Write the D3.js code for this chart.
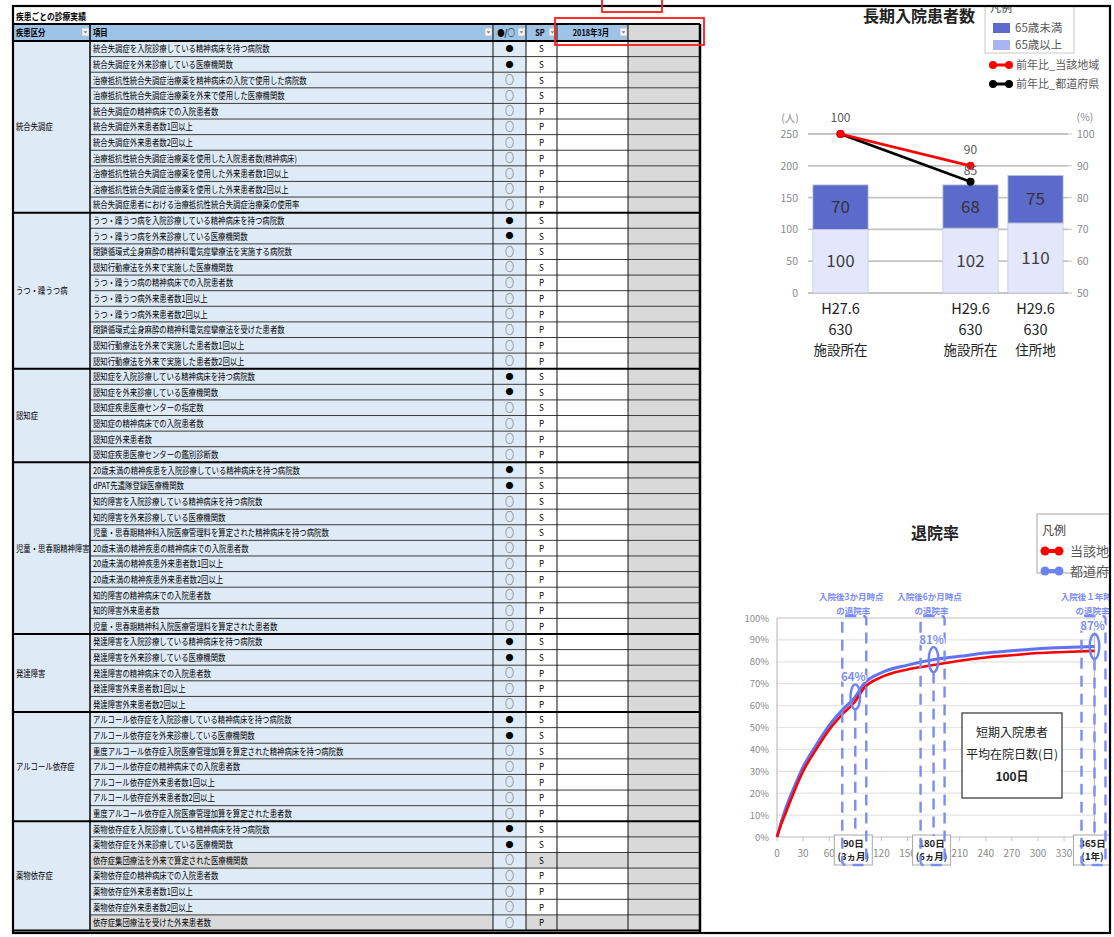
<!DOCTYPE html>
<html>
<head>
<meta charset="utf-8">
<script src="https://cdn.jsdelivr.net/npm/d3@7"></script>
<style>
  body { margin: 0; background: #fff; }
  svg { display: block; }
  text { font-family: "Noto Sans CJK JP", "Noto Sans", sans-serif; }
</style>
</head>
<body>
<svg id="sheet" width="1114" height="937"></svg>
<script>
// ---------- table data ----------
const tableTitle = '疾患ごとの診療実績';
const headerLabels = ['疾患区分', '項目', '●/○', 'SP', '2018年3月', ''];
const groupNames = ['統合失調症', 'うつ・躁うつ病', '認知症', '児童・思春期精神障害', '発達障害', 'アルコール依存症', '薬物依存症'];
const groupSizes = [11, 10, 6, 11, 5, 7, 7];
const itemNames = [
  '統合失調症を入院診療している精神病床を持つ病院数',
  '統合失調症を外来診療している医療機関数',
  '治療抵抗性統合失調症治療薬を精神病床の入院で使用した病院数',
  '治療抵抗性統合失調症治療薬を外来で使用した医療機関数',
  '統合失調症の精神病床での入院患者数',
  '統合失調症外来患者数1回以上',
  '統合失調症外来患者数2回以上',
  '治療抵抗性統合失調症治療薬を使用した入院患者数(精神病床)',
  '治療抵抗性統合失調症治療薬を使用した外来患者数1回以上',
  '治療抵抗性統合失調症治療薬を使用した外来患者数2回以上',
  '統合失調症患者における治療抵抗性統合失調症治療薬の使用率',
  'うつ・躁うつ病を入院診療している精神病床を持つ病院数',
  'うつ・躁うつ病を外来診療している医療機関数',
  '閉鎖循環式全身麻酔の精神科電気痙攣療法を実施する病院数',
  '認知行動療法を外来で実施した医療機関数',
  'うつ・躁うつ病の精神病床での入院患者数',
  'うつ・躁うつ病外来患者数1回以上',
  'うつ・躁うつ病外来患者数2回以上',
  '閉鎖循環式全身麻酔の精神科電気痙攣療法を受けた患者数',
  '認知行動療法を外来で実施した患者数1回以上',
  '認知行動療法を外来で実施した患者数2回以上',
  '認知症を入院診療している精神病床を持つ病院数',
  '認知症を外来診療している医療機関数',
  '認知症疾患医療センターの指定数',
  '認知症の精神病床での入院患者数',
  '認知症外来患者数',
  '認知症疾患医療センターの鑑別診断数',
  '20歳未満の精神疾患を入院診療している精神病床を持つ病院数',
  'dPAT先遣隊登録医療機関数',
  '知的障害を入院診療している精神病床を持つ病院数',
  '知的障害を外来診療している医療機関数',
  '児童・思春期精神科入院医療管理料を算定された精神病床を持つ病院数',
  '20歳未満の精神疾患の精神病床での入院患者数',
  '20歳未満の精神疾患外来患者数1回以上',
  '20歳未満の精神疾患外来患者数2回以上',
  '知的障害の精神病床での入院患者数',
  '知的障害外来患者数',
  '児童・思春期精神科入院医療管理料を算定された患者数',
  '発達障害を入院診療している精神病床を持つ病院数',
  '発達障害を外来診療している医療機関数',
  '発達障害の精神病床での入院患者数',
  '発達障害外来患者数1回以上',
  '発達障害外来患者数2回以上',
  'アルコール依存症を入院診療している精神病床を持つ病院数',
  'アルコール依存症を外来診療している医療機関数',
  '重度アルコール依存症入院医療管理加算を算定された精神病床を持つ病院数',
  'アルコール依存症の精神病床での入院患者数',
  'アルコール依存症外来患者数1回以上',
  'アルコール依存症外来患者数2回以上',
  '重度アルコール依存症入院医療管理加算を算定された患者数',
  '薬物依存症を入院診療している精神病床を持つ病院数',
  '薬物依存症を外来診療している医療機関数',
  '依存症集団療法を外来で算定された医療機関数',
  '薬物依存症の精神病床での入院患者数',
  '薬物依存症外来患者数1回以上',
  '薬物依存症外来患者数2回以上',
  '依存症集団療法を受けた外来患者数'
];
const itemMarks = Array.from('●●○○○○○○○○○' + '●●○○○○○○○○' + '●●○○○○' + '●●○○○○○○○○○' + '●●○○○' + '●●○○○○○' + '●●○○○○○');
const itemSP = Array.from('SSSSPPPPPPP' + 'SSSSPPPPPP' + 'SSSPPP' + 'SSSSSPPPPPP' + 'SSPPP' + 'SSSPPPP' + 'SSSPPPP');
const greyedItems = [52, 56];

// ---------- long-stay chart data ----------
const stayTitle = '長期入院患者数';
const stayCats = ['H27.6\n630\n施設所在', ' ', 'H29.6\n630\n施設所在', 'H29.6\n630\n住所地'];
const stayOver65 = [100, null, 102, 110];
const stayUnder65 = [70, null, 68, 75];
const ratioLocal = [100, null, 90, null];
const ratioPref = [100, null, 85, null];
const stayTicksLeft = [0, 50, 100, 150, 200, 250];
const stayTicksRight = [50, 60, 70, 80, 90, 100];
const stayLegendBars = ['65歳未満', '65歳以上'];
const stayLegendLines = ['前年比_当該地域', '前年比_都道府県'];

// ---------- discharge-rate chart data ----------
const dischargeTitle = '退院率';
const dischargeDays = [0, 5, 10, 20, 30, 45, 60, 75, 90, 100, 120, 150, 180, 210, 240, 270, 300, 330, 365];
const dischargeLocal = [0, 6, 11, 21, 30, 40, 49, 56, 62, 68, 73, 76.5, 78.5, 80.5, 82, 83, 84, 84.5, 85];
const dischargePref = [0, 7, 13, 23, 32, 42, 51, 58, 64, 70, 75, 78.5, 81, 82.5, 84, 85, 86, 86.5, 87];
const dischargeTicksX = [0, 30, 60, 120, 150, 210, 240, 270, 300, 330];
const dischargeTicksY = [0, 10, 20, 30, 40, 50, 60, 70, 80, 90, 100];
const markDays = [90, 180, 365];
const markRates = [64, 81, 87];
const markTop = ['入院後3か月時点', '入院後6か月時点', '入院後１年時点'];
const markBottom = [['90日', '(3ヵ月)'], ['180日', '(6ヵ月)'], ['365日', '(1年)']];
const dischargeLegend = ['当該地域', '都道府県'];
const shortStayNote = ['短期入院患者', '平均在院日数(日)', '100日'];

// ---------- drawing ----------
const svg = d3.select('#sheet');
svg.append('rect').attr('width', 1114).attr('height', 937).attr('fill', '#fff');

// condensed spreadsheet-style text
function cellText(g, x, y, str, opt = {}) {
  return g.append('text')
    .attr('transform', `translate(${x},${y}) scale(${opt.sx || 0.82},1)`)
    .attr('text-anchor', opt.anchor || 'start')
    .attr('font-size', opt.size || 9)
    .attr('font-weight', opt.bold ? 700 : 400)
    .attr('fill', opt.fill || '#000')
    .text(str);
}

const T = svg.append('g');
const colX = [14, 90, 493, 526, 557, 628, 700];
const rowY = d3.scaleLinear().domain([0, itemNames.length]).range([41, 930.5]);
const groupStart = groupSizes.map((s, i) => d3.sum(groupSizes.slice(0, i)));

// title row
cellText(T, 16, 20, tableTitle, { bold: true, size: 9.5 });

// header row
T.append('rect').attr('x', colX[0]).attr('y', 24).attr('width', colX[5] - colX[0]).attr('height', 17).attr('fill', '#9dc3e6');
T.append('rect').attr('x', colX[5]).attr('y', 24).attr('width', colX[6] - colX[5]).attr('height', 17).attr('fill', '#d9d9d9');
cellText(T, 16, 36, headerLabels[0], { bold: true });
cellText(T, 93, 36, headerLabels[1], { bold: true });
cellText(T, 506, 36, headerLabels[2], { bold: true, anchor: 'middle' });
cellText(T, 540, 36, headerLabels[3], { bold: true, anchor: 'middle' });
cellText(T, 591, 36, headerLabels[4], { bold: true, anchor: 'middle' });
[90, 493, 526, 557, 628].forEach(r => {
  const x = r - 8;
  T.append('rect').attr('x', x).attr('y', 28).attr('width', 7).attr('height', 8)
    .attr('fill', '#f3f3f3').attr('stroke', '#b5b5b5').attr('stroke-width', 0.6);
  T.append('path').attr('d', `M${x + 1.6},31.2h3.8l-1.9,2.3z`).attr('fill', '#7a7a7a');
});

// cell backgrounds
const colFill = ['#deebf7', '#deebf7', '#deebf7', '#ffffff', '#ffffff', '#d9d9d9'];
groupNames.forEach((g, gi) => {
  const s = groupStart[gi], e = s + groupSizes[gi];
  T.append('rect').attr('x', colX[0]).attr('y', rowY(s)).attr('width', colX[1] - colX[0])
    .attr('height', rowY(e) - rowY(s)).attr('fill', colFill[0]);
});
itemNames.forEach((name, i) => {
  const y0 = rowY(i), h = rowY(i + 1) - y0;
  for (let c = 1; c < 6; c++) {
    let f = colFill[c];
    if (greyedItems.includes(i) && (c === 1 || c === 3 || c === 4)) f = '#d9d9d9';
    T.append('rect').attr('x', colX[c]).attr('y', y0).attr('width', colX[c + 1] - colX[c]).attr('height', h).attr('fill', f);
  }
});

// thin row separators
itemNames.forEach((name, i) => {
  if (i === 0 || groupStart.includes(i)) return;
  T.append('line').attr('x1', colX[1]).attr('x2', colX[6]).attr('y1', rowY(i)).attr('y2', rowY(i))
    .attr('stroke', '#3a3a3a').attr('stroke-width', 1);
});
// column separators
[[90, 1.6], [493, 1], [526, 1], [557, 1], [628, 1]].forEach(([x, w]) => {
  T.append('line').attr('x1', x).attr('x2', x).attr('y1', 24).attr('y2', 931)
    .attr('stroke', '#111').attr('stroke-width', w);
});
// group separators
groupStart.concat([itemNames.length]).forEach(i => {
  T.append('line').attr('x1', colX[0]).attr('x2', colX[6]).attr('y1', rowY(i)).attr('y2', rowY(i))
    .attr('stroke', '#000').attr('stroke-width', 2);
});
T.append('line').attr('x1', colX[0]).attr('x2', colX[6]).attr('y1', 24).attr('y2', 24).attr('stroke', '#000').attr('stroke-width', 2);
T.append('line').attr('x1', 700).attr('x2', 700).attr('y1', 24).attr('y2', 932).attr('stroke', '#000').attr('stroke-width', 2.5);

// cell texts
groupNames.forEach((g, gi) => {
  const s = groupStart[gi], e = s + groupSizes[gi];
  cellText(T, 16, (rowY(s) + rowY(e)) / 2 + 3.5, g);
});
itemNames.forEach((name, i) => {
  const yb = rowY(i) + 11.4;
  cellText(T, 93, yb, name);
  const filled = itemMarks[i] === '●';
  T.append('text')
    .attr('transform', `translate(509.5,${yb + (filled ? -0.3 : 0.6)}) scale(${filled ? 1 : 0.78},1)`)
    .attr('text-anchor', 'middle')
    .attr('font-family', 'DejaVu Sans').attr('font-size', filled ? 8 : 11)
    .attr('fill', filled ? '#000' : '#7a7a7a')
    .attr('stroke', filled ? 'none' : '#9a9a9a').attr('stroke-width', 0.4)
    .text(itemMarks[i]);
  cellText(T, 541.5, yb, itemSP[i], { anchor: 'middle', sx: 0.9 });
});

// ---------- right panel ----------
const R = svg.append('g');
svg.append('clipPath').attr('id', 'panelClip').append('rect').attr('x', 14).attr('y', 7).attr('width', 1095).attr('height', 926);
R.attr('clip-path', 'url(#panelClip)');

// ===== long-stay patients chart =====
const x1 = d3.scaleBand().domain(stayCats).range([808, 1068]).paddingInner(0.15).paddingOuter(0.075);
const yL = d3.scaleLinear().domain([0, 250]).range([293, 134]);
const yR = d3.scaleLinear().domain([50, 100]).range([293, 134]);
const axisGrey = '#8a8a8a';

R.append('text').attr('x', 919).attr('y', 22).attr('text-anchor', 'middle').attr('font-size', 16)
  .attr('font-weight', 700).attr('fill', '#222').text(stayTitle);

stayTicksLeft.forEach(t => {
  R.append('line').attr('x1', 808).attr('x2', 1068).attr('y1', yL(t)).attr('y2', yL(t))
    .attr('stroke', '#c4c4c4').attr('stroke-width', 1.8);
  R.append('text').attr('x', 798).attr('y', yL(t) + 4).attr('text-anchor', 'end').attr('font-size', 10.5)
    .attr('fill', axisGrey).text(t);
});
stayTicksRight.forEach(t => {
  R.append('line').attr('x1', 1068).attr('x2', 1072).attr('y1', yR(t)).attr('y2', yR(t)).attr('stroke', '#c4c4c4');
  R.append('text').attr('x', 1077).attr('y', yR(t) + 4).attr('font-size', 10.5).attr('fill', axisGrey).text(t);
});
R.append('text').attr('x', 790).attr('y', 122).attr('text-anchor', 'middle').attr('font-size', 10.5).attr('fill', axisGrey).text('(人)');
R.append('text').attr('x', 1085).attr('y', 121).attr('text-anchor', 'middle').attr('font-size', 10.5).attr('fill', axisGrey).text('(%)');

stayCats.forEach((c, i) => {
  if (stayOver65[i] == null) return;
  const bx = x1(c), bw = x1.bandwidth(), cx = bx + bw / 2;
  const lo = stayOver65[i], hi = lo + stayUnder65[i];
  R.append('rect').attr('x', bx).attr('y', yL(lo)).attr('width', bw).attr('height', yL(0) - yL(lo))
    .attr('fill', '#e4e7fb').attr('stroke', '#c9c9d6').attr('stroke-width', 0.8);
  R.append('rect').attr('x', bx).attr('y', yL(hi)).attr('width', bw).attr('height', yL(lo) - yL(hi))
    .attr('fill', '#5c6bcb').attr('stroke', '#c9c9d6').attr('stroke-width', 0.8);
  R.append('text').attr('x', cx).attr('y', (yL(0) + yL(lo)) / 2 + 6).attr('text-anchor', 'middle')
    .attr('font-size', 17).attr('fill', '#404040').text(lo);
  R.append('text').attr('x', cx).attr('y', (yL(lo) + yL(hi)) / 2 + 6).attr('text-anchor', 'middle')
    .attr('font-size', 17).attr('fill', '#333').text(stayUnder65[i]);
  c.split('\n').forEach((ln, k) => {
    R.append('text').attr('x', cx).attr('y', 314 + k * 20.5).attr('text-anchor', 'middle')
      .attr('font-size', k < 2 ? 14.5 : 13.5).attr('fill', '#222').text(ln);
  });
});

function ratioPoints(arr) {
  return stayCats.map((c, i) => ({ c, v: arr[i] })).filter(d => d.v != null);
}
const ratioLine = d3.line().x(d => x1(d.c) + x1.bandwidth() / 2).y(d => yR(d.v));
[[ratioPref, '#000'], [ratioLocal, '#ff0000']].forEach(([arr, col]) => {
  const pts = ratioPoints(arr);
  R.append('path').attr('d', ratioLine(pts)).attr('fill', 'none').attr('stroke', col).attr('stroke-width', 2.8);
  pts.forEach(p => R.append('circle').attr('cx', x1(p.c) + x1.bandwidth() / 2).attr('cy', yR(p.v)).attr('r', 4).attr('fill', col));
});
ratioPoints(ratioLocal).forEach(p => {
  R.append('text').attr('x', x1(p.c) + x1.bandwidth() / 2).attr('y', yR(p.v) - 12).attr('text-anchor', 'middle')
    .attr('font-size', 12).attr('fill', '#595959').text(p.v);
});
ratioPoints(ratioPref).forEach(p => {
  if (p.v === ratioLocal[stayCats.indexOf(p.c)]) return;
  R.append('text').attr('x', x1(p.c) + x1.bandwidth() / 2).attr('y', yR(p.v) - 7).attr('text-anchor', 'middle')
    .attr('font-size', 12).attr('fill', '#595959').text(p.v);
});

// legend
R.append('rect').attr('x', 985).attr('y', -4).attr('width', 89).attr('height', 57).attr('fill', '#fff').attr('stroke', '#c8c8c8');
R.append('text').attr('x', 990).attr('y', 12).attr('font-size', 11).attr('fill', '#404040').text('凡例');
[['#5c6bcb', stayLegendBars[0]], ['#aab3f3', stayLegendBars[1]]].forEach(([col, lab], k) => {
  R.append('rect').attr('x', 993).attr('y', 23 + k * 17).attr('width', 17).attr('height', 10).attr('fill', col);
  R.append('text').attr('x', 1015).attr('y', 32 + k * 17).attr('font-size', 11.5).attr('fill', '#595959').text(lab);
});
[['#ff0000', stayLegendLines[0]], ['#000', stayLegendLines[1]]].forEach(([col, lab], k) => {
  const y = 65 + k * 19;
  R.append('line').attr('x1', 993).attr('x2', 1009).attr('y1', y).attr('y2', y).attr('stroke', col).attr('stroke-width', 3);
  R.append('circle').attr('cx', 993).attr('cy', y).attr('r', 4).attr('fill', col);
  R.append('circle').attr('cx', 1009).attr('cy', y).attr('r', 4).attr('fill', col);
  R.append('text').attr('x', 1016).attr('y', y + 4).attr('font-size', 11).attr('fill', '#595959').text(lab);
});

// ===== discharge-rate chart =====
const x2 = d3.scaleLinear().domain([0, 365]).range([777, 1094.5]);
const y2 = d3.scaleLinear().domain([0, 100]).range([837, 618]);
const markBlue = '#6f82f4';

R.append('text').attr('x', 935).attr('y', 539).attr('text-anchor', 'middle').attr('font-size', 16)
  .attr('font-weight', 700).attr('fill', '#222').text(dischargeTitle);

dischargeTicksY.forEach(t => {
  R.append('line').attr('x1', x2(0)).attr('x2', x2(365)).attr('y1', y2(t)).attr('y2', y2(t))
    .attr('stroke', t === 0 || t === 100 ? '#bfbfbf' : '#e3e3e3').attr('stroke-width', 1.2);
  R.append('text').attr('x', 769).attr('y', y2(t) + 3.5).attr('text-anchor', 'end').attr('font-size', 9.5)
    .attr('fill', axisGrey).text(t + '%');
});
R.append('line').attr('x1', x2(0)).attr('x2', x2(0)).attr('y1', y2(0)).attr('y2', y2(100)).attr('stroke', '#bfbfbf').attr('stroke-width', 1.2);
R.append('line').attr('x1', x2(365)).attr('x2', x2(365)).attr('y1', y2(0)).attr('y2', y2(100)).attr('stroke', '#bfbfbf').attr('stroke-width', 1.2);
dischargeTicksX.forEach(t => {
  R.append('line').attr('x1', x2(t)).attr('x2', x2(t)).attr('y1', 837).attr('y2', 841).attr('stroke', '#bfbfbf');
  R.append('text').attr('x', x2(t)).attr('y', 857).attr('text-anchor', 'middle').attr('font-size', 10)
    .attr('fill', axisGrey).text(t);
});

const rateLine = arr => d3.line().curve(d3.curveMonotoneX)
  .x((d, i) => x2(dischargeDays[i])).y(d => y2(d))(arr);
R.append('path').attr('d', rateLine(dischargePref)).attr('fill', 'none').attr('stroke', '#5f72f2').attr('stroke-width', 3);
R.append('path').attr('d', rateLine(dischargeLocal)).attr('fill', 'none').attr('stroke', '#ff0000').attr('stroke-width', 2.6);

// short-stay note
R.append('rect').attr('x', 962).attr('y', 713).attr('width', 100).attr('height', 85).attr('fill', '#fff')
  .attr('stroke', '#404040').attr('stroke-width', 1.3);
shortStayNote.forEach((ln, k) => {
  R.append('text').attr('x', 1012).attr('y', 737 + k * 22).attr('text-anchor', 'middle').attr('font-size', 12)
    .attr('font-weight', k === 2 ? 700 : 400).attr('fill', '#222').text(ln);
});

// milestone markers
markDays.forEach((d, k) => {
  const cx = x2(d);
  // bottom day box
  R.append('rect').attr('x', cx - 21).attr('y', 835).attr('width', 38).attr('height', 30)
    .attr('fill', '#fff').attr('stroke', '#a8a8a8').attr('stroke-width', 1);
  markBottom[k].forEach((ln, j) => {
    R.append('text').attr('x', cx - 2).attr('y', 847 + j * 13).attr('text-anchor', 'middle').attr('font-size', 9.5)
      .attr('font-weight', 700).attr('fill', '#222').text(ln);
  });
  // dashed frame and centre line
  R.append('rect').attr('x', cx - 13).attr('y', 616).attr('width', 24).attr('height', 249).attr('rx', 3)
    .attr('fill', 'none').attr('stroke', '#7b8cf6').attr('stroke-width', 2.4).attr('stroke-dasharray', '11,7');
  R.append('line').attr('x1', cx).attr('x2', cx).attr('y1', y2(markRates[k]) + 13).attr('y2', 836)
    .attr('stroke', '#7b8cf6').attr('stroke-width', 2.4).attr('stroke-dasharray', '11,7');
  // highlighted point
  R.append('ellipse').attr('cx', cx).attr('cy', y2(markRates[k])).attr('rx', 4.8).attr('ry', 12.5)
    .attr('fill', 'none').attr('stroke', markBlue).attr('stroke-width', 2.4);
  R.append('text').attr('x', cx - 2).attr('y', y2(markRates[k]) - 16).attr('text-anchor', 'middle')
    .attr('font-size', 11.5).attr('font-weight', 700).attr('fill', '#7d8ef5').attr('stroke', '#fff')
    .attr('stroke-width', 2.5).attr('paint-order', 'stroke').text(markRates[k] + '%');
  R.append('text').attr('x', cx - 4).attr('y', 600).attr('text-anchor', 'middle').attr('font-size', 8.5)
    .attr('font-weight', 700).attr('fill', '#7b8cf6').text(markTop[k]);
  R.append('text').attr('x', cx - 2).attr('y', 614).attr('text-anchor', 'middle').attr('font-size', 8.5)
    .attr('font-weight', 700).attr('fill', '#7b8cf6').text('の退院率');
});

// legend
R.append('rect').attr('x', 1037).attr('y', 514).attr('width', 100).attr('height', 59).attr('fill', '#fff').attr('stroke', '#a6a6a6');
R.append('text').attr('x', 1042).attr('y', 535).attr('font-size', 12).attr('fill', '#404040').text('凡例');
[['#ff0000', dischargeLegend[0]], ['#6f82f4', dischargeLegend[1]]].forEach(([col, lab], k) => {
  const y = 551 + k * 20;
  R.append('line').attr('x1', 1045).attr('x2', 1059).attr('y1', y).attr('y2', y).attr('stroke', col).attr('stroke-width', 4);
  R.append('circle').attr('cx', 1045).attr('cy', y).attr('r', 4.5).attr('fill', col);
  R.append('circle').attr('cx', 1059).attr('cy', y).attr('r', 4.5).attr('fill', col);
  R.append('text').attr('x', 1070).attr('y', y + 5).attr('font-size', 13).attr('fill', '#595959').text(lab);
});

// ---------- outer frame and highlight boxes ----------
svg.append('rect').attr('x', 13).attr('y', 6).attr('width', 1097).attr('height', 927)
  .attr('fill', 'none').attr('stroke', '#000').attr('stroke-width', 2.2);
svg.append('rect').attr('x', 555).attr('y', 18).attr('width', 149).attr('height', 27)
  .attr('fill', 'none').attr('stroke', '#ff1a1a').attr('stroke-width', 1.8);
svg.append('rect').attr('x', 602).attr('y', -4).attr('width', 60).attr('height', 16)
  .attr('fill', 'none').attr('stroke', '#ff1a1a').attr('stroke-width', 1.8);
</script>
</body>
</html>
